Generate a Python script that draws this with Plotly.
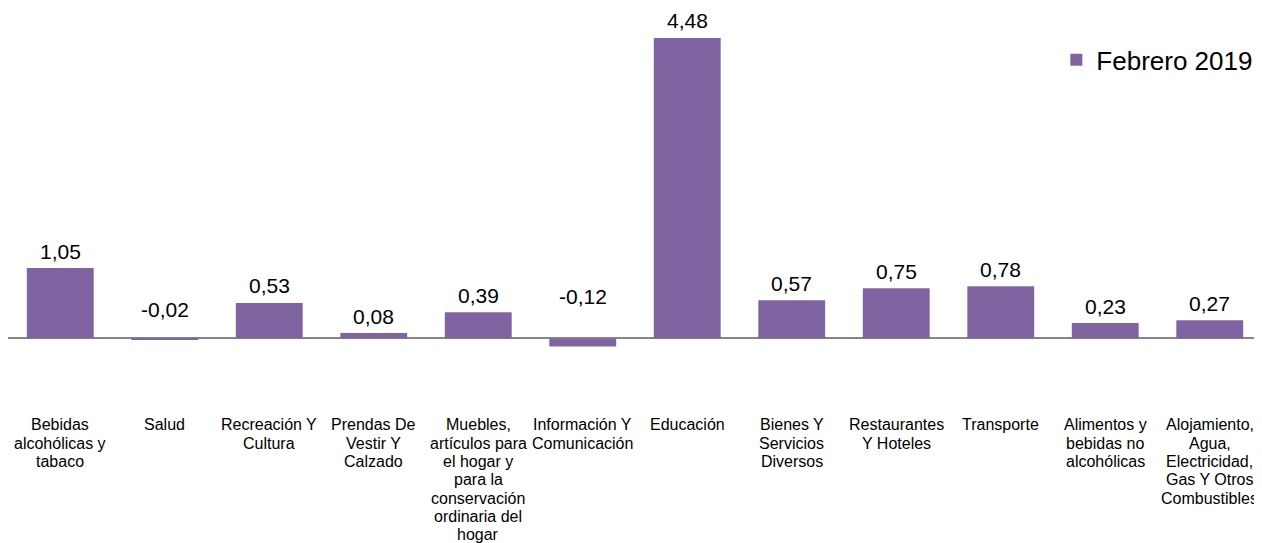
import plotly.graph_objects as go

categories = [
    "Bebidas alcohólicas y tabaco", "Salud", "Recreación Y Cultura",
    "Prendas De Vestir Y Calzado",
    "Muebles, artículos para el hogar y para la conservación ordinaria del hogar",
    "Información Y Comunicación", "Educación", "Bienes Y Servicios Diversos",
    "Restaurantes Y Hoteles", "Transporte", "Alimentos y bebidas no alcohólicas",
    "Alojamiento, Agua, Electricidad, Gas Y Otros Combustibles",
]
tick_labels = [
    "Bebidas<br>alcohólicas y<br>tabaco", "Salud", "Recreación Y<br>Cultura",
    "Prendas De<br>Vestir Y<br>Calzado",
    "Muebles,<br>artículos para<br>el hogar y<br>para la<br>conservación<br>ordinaria del<br>hogar",
    "Información Y<br>Comunicación", "Educación", "Bienes Y<br>Servicios<br>Diversos",
    "Restaurantes<br>Y Hoteles", "Transporte", "Alimentos y<br>bebidas no<br>alcohólicas",
    "Alojamiento,<br>Agua,<br>Electricidad,<br>Gas Y Otros<br>Combustibles",
]
values = [1.05, -0.02, 0.53, 0.08, 0.39, -0.12, 4.48, 0.57, 0.75, 0.78, 0.23, 0.27]
series_name = "Febrero 2019"

FONT = "Liberation Sans, Arial, sans-serif"
COLOR = "#8064A2"

fig = go.Figure()
fig.add_trace(go.Bar(
    x=list(range(len(categories))), y=values, name=series_name,
    marker=dict(color=COLOR, line=dict(width=0)),
    hovertext=categories, showlegend=True,
))

annotations = []
for i, v in enumerate(values):
    label = f"{v:.2f}".replace(".", ",")
    if v >= 0:
        annotations.append(dict(x=i, y=v, xref="x", yref="y", text=label,
                                showarrow=False, yanchor="middle", yshift=17,
                                font=dict(family=FONT, size=21, color="#000000")))
    else:
        annotations.append(dict(x=i, y=0, xref="x", yref="y", text=label,
                                showarrow=False, yanchor="middle",
                                yshift=26 + abs(v) * 130,
                                font=dict(family=FONT, size=21, color="#000000")))

LINE_GAP = 18.3
for i, t in enumerate(tick_labels):
    for k, line in enumerate(t.split("<br>")):
        annotations.append(dict(x=i, y=0, xref="x", yref="y", text=line,
                                showarrow=False, yanchor="middle", xanchor="center",
                                yshift=-(86.5 + k * LINE_GAP),
                                font=dict(family=FONT, size=16, color="#000000")))

fig.update_layout(
    width=1254, height=535,
    margin=dict(l=0, r=0, t=0, b=0),
    paper_bgcolor="white", plot_bgcolor="white",
    bargap=0.36,
    showlegend=True,
    legend=dict(x=0.836, y=0.903, xanchor="left", yanchor="middle",
                font=dict(family=FONT, size=26, color="#000000"),
                bgcolor="rgba(0,0,0,0)", itemwidth=30),
    xaxis=dict(range=[-0.5, len(categories) - 0.5], showticklabels=False,
               showgrid=False, zeroline=False, showline=False, ticks=""),
    yaxis=dict(range=[-3.049, 4.927], showticklabels=False, showgrid=False,
               zeroline=True, zerolinecolor="#868686", zerolinewidth=1.5,
               showline=False, ticks=""),
    annotations=annotations,
    font=dict(family=FONT),
)

fig.write_html("out.html")
